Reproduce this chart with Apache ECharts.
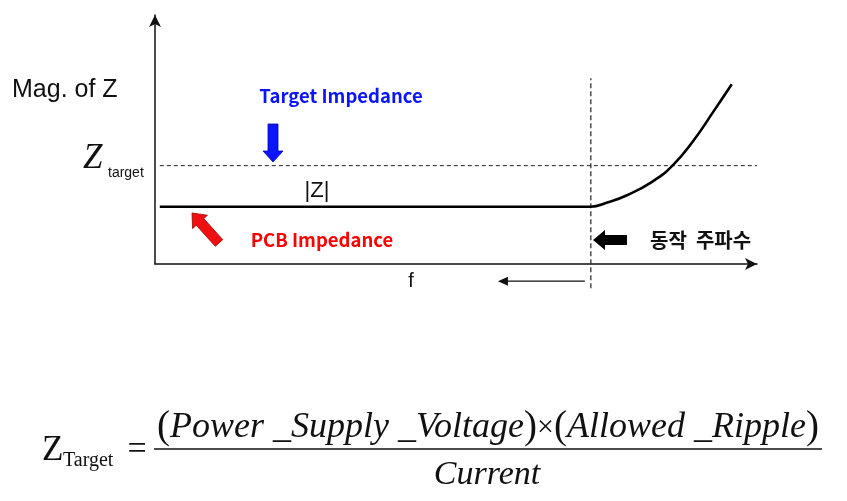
<!DOCTYPE html>
<html>
<head>
<meta charset="utf-8">
<script src="https://cdn.jsdelivr.net/npm/echarts@6/dist/echarts.min.js"></script>
<style>
  html, body { margin: 0; padding: 0; background: #fff; }
  #chart { width: 847px; height: 501px; }
</style>
</head>
<body>
<div id="chart"></div>
<script>
// |Z| curve (frequency in % of axis, magnitude in % of axis)
const freq = [0.8, 72.4, 75.0, 78.4, 82.7, 86.0, 89.4, 92.7, 95.8];
const mag = [23.0, 23.0, 24.6, 27.6, 33.2, 39.6, 49.4, 61.0, 72.2];

// target impedance level (dashed horizontal line)
const targetLevel = 39.5;
const targetSpan = [0.8, 100];

// operating frequency (dashed vertical line)
const opFreq = 72.4;
const opSpan = [-9.7, 74.6];

// small arrow under the x axis
const bandArrowY = -6.9;
const bandArrowX = [71.4, 57.8];

const labels = {
    yName: 'Mag. of Z',
    zSym: 'Z',
    zSub: 'target',
    target: 'Target Impedance',
    pcb: 'PCB Impedance',
    op: '동작  주파수',
    absZ: '|Z|',
    f: 'f',
};

// block arrow polygon from tail to tip
function blockArrow(tail, tip, shaftW, headW, headLen) {
    const dx = tip[0] - tail[0], dy = tip[1] - tail[1];
    const len = Math.sqrt(dx * dx + dy * dy);
    const ux = dx / len, uy = dy / len;
    const nx = -uy, ny = ux;
    const bx = tip[0] - ux * headLen, by = tip[1] - uy * headLen;
    const s = shaftW / 2, h = headW / 2;
    return [
        [tail[0] + nx * s, tail[1] + ny * s],
        [bx + nx * s, by + ny * s],
        [bx + nx * h, by + ny * h],
        tip,
        [bx - nx * h, by - ny * h],
        [bx - nx * s, by - ny * s],
        [tail[0] - nx * s, tail[1] - ny * s],
    ];
}

const myChart = echarts.init(document.getElementById('chart'), null, { renderer: 'canvas' });

const sans = '"Liberation Sans", Arial, sans-serif';
const serif = '"Liberation Serif", "Times New Roman", serif';
const kr = '"Noto Sans CJK KR", sans-serif';

const option = {
    animation: false,
    backgroundColor: '#fff',
    grid: { left: 155, right: 90, top: 15, bottom: 237 },
    xAxis: {
        type: 'value',
        min: 0,
        max: 100,
        axisLine: {
            show: true,
            symbol: ['none', 'arrow'],
            symbolSize: [9, 12],
            lineStyle: { color: '#111', width: 1.5 },
        },
        axisTick: { show: false },
        axisLabel: { show: false },
        splitLine: { show: false },
    },
    yAxis: {
        type: 'value',
        min: 0,
        max: 100,
        axisLine: {
            show: true,
            symbol: ['none', 'arrow'],
            symbolSize: [9, 12],
            lineStyle: { color: '#111', width: 1.5 },
        },
        axisTick: { show: false },
        axisLabel: { show: false },
        splitLine: { show: false },
    },
    series: [
        {
            name: 'target',
            type: 'line',
            clip: false,
            symbol: 'none',
            data: targetSpan.map(x => [x, targetLevel]),
            lineStyle: { color: '#222', width: 1, type: [4, 3] },
        },
        {
            name: 'op',
            type: 'line',
            clip: false,
            symbol: 'none',
            data: opSpan.map(y => [opFreq, y]),
            lineStyle: { color: '#222', width: 1.2, type: [5, 3] },
        },
        {
            name: 'band',
            type: 'line',
            clip: false,
            showSymbol: true,
            data: [
                { value: [bandArrowX[0], bandArrowY], symbol: 'none' },
                { value: [bandArrowX[1], bandArrowY], symbol: 'triangle', symbolRotate: 90, symbolSize: [9, 10] },
            ],
            itemStyle: { color: '#111' },
            lineStyle: { color: '#111', width: 1.2 },
        },
        {
            name: '|Z|',
            type: 'line',
            clip: false,
            symbol: 'none',
            smooth: 0.5,
            data: freq.map((x, i) => [x, mag[i]]),
            lineStyle: { color: '#000', width: 2.6 },
        },
    ],
    graphic: [
        { type: 'text', left: 12, top: 78, style: { text: labels.yName, font: '25px ' + sans, fill: '#111' } },
        { type: 'text', x: 83, y: 159, style: { text: labels.zSym, font: 'italic 35px ' + serif, fill: '#111', verticalAlign: 'middle' } },
        { type: 'text', x: 108, y: 173, style: { text: labels.zSub, font: '14px ' + sans, fill: '#111', verticalAlign: 'middle' } },
        { type: 'text', x: 341, y: 96, style: { text: labels.target, font: 'bold 18.5px ' + kr, fill: '#0a14ff', align: 'center', verticalAlign: 'middle' } },
        { type: 'text', x: 322, y: 240, style: { text: labels.pcb, font: 'bold 18.5px ' + kr, fill: '#ff0000', align: 'center', verticalAlign: 'middle' } },
        { type: 'text', x: 650, y: 240, style: { text: labels.op, font: 'bold 20px ' + kr, fill: '#111', verticalAlign: 'middle' } },
        { type: 'text', x: 317, y: 191, style: { text: labels.absZ, font: '22px ' + sans, fill: '#111', align: 'center', verticalAlign: 'middle' } },
        { type: 'text', x: 411, y: 281, style: { text: labels.f, font: '20px ' + sans, fill: '#111', align: 'center', verticalAlign: 'middle' } },
        { type: 'polygon', shape: { points: blockArrow([273, 124], [273, 162], 10, 20, 11) }, style: { fill: '#0a14ff', stroke: '#0008a0', lineWidth: 0.8 } },
        { type: 'polygon', shape: { points: blockArrow([219, 243], [192, 213], 10, 20, 12) }, style: { fill: '#ee1010', stroke: '#900', lineWidth: 0.8 } },
        { type: 'polygon', shape: { points: blockArrow([627, 240], [593, 240], 10, 20, 12) }, style: { fill: '#000' } },
        // formula
        { type: 'text', x: 42, y: 451, style: { text: 'Z', font: '35px ' + serif, fill: '#111', verticalAlign: 'middle' } },
        { type: 'text', x: 63, y: 461, style: { text: 'Target', font: '20px ' + serif, fill: '#111', verticalAlign: 'middle' } },
        { type: 'text', x: 137, y: 450, style: { text: '=', font: '34px ' + serif, fill: '#111', align: 'center', verticalAlign: 'middle' } },
        { type: 'line', shape: { x1: 154, y1: 449, x2: 822, y2: 449 }, style: { stroke: '#111', lineWidth: 1.5 } },
        {
            type: 'text', x: 488, y: 428,
            style: {
                text: '{p|(}{t|Power _Supply _Voltage}{p|)}{x|×}{p|(}{t|Allowed _Ripple}{p|)}',
                align: 'center', verticalAlign: 'middle', fill: '#111',
                rich: {
                    p: { font: '39px ' + serif, fill: '#111' },
                    t: { font: 'italic 36px ' + serif, fill: '#111' },
                    x: { font: '30px ' + serif, fill: '#111' },
                },
            },
        },
        { type: 'text', x: 487, y: 475, style: { text: 'Current', font: 'italic 34px ' + serif, fill: '#111', align: 'center', verticalAlign: 'middle' } },
    ],
};

myChart.setOption(option);
window.addEventListener('resize', function () {
    myChart.resize();
});
</script>
</body>
</html>
